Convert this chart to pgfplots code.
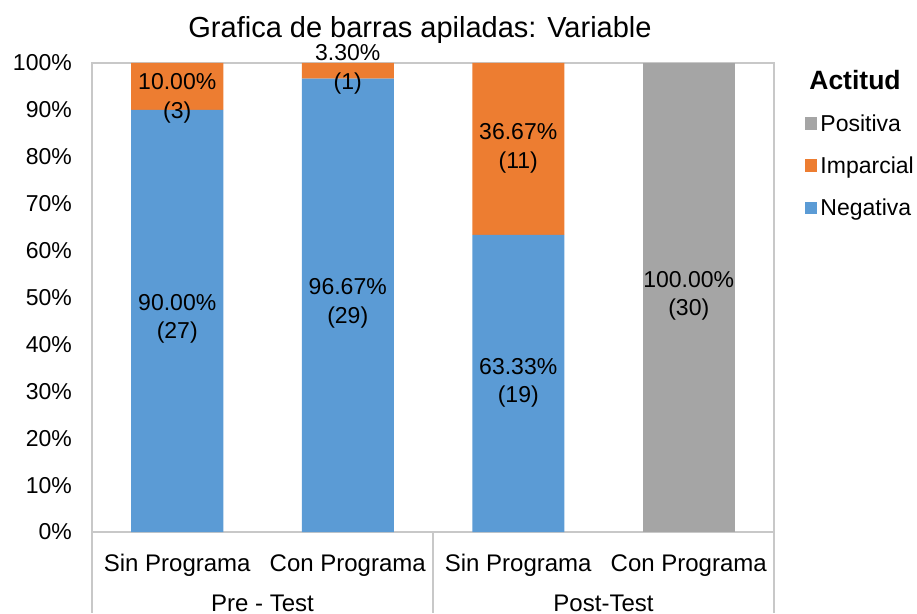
\documentclass[border=0pt]{standalone}
\usepackage{pgfplots}
\pgfplotsset{compat=1.18}
\usepackage{fontspec}
\setmainfont{Liberation Sans}
\definecolor{cblue}{HTML}{5B9BD5}
\definecolor{corange}{HTML}{ED7D31}
\definecolor{cgray}{HTML}{A5A5A5}
\definecolor{cline}{HTML}{C8C8C8}
\begin{document}
\begin{tikzpicture}
\begin{axis}[
  at={(0,0)}, anchor=south west,
  scale only axis, width=682pt, height=469pt,
  ybar stacked, bar width=92pt,
  xmin=-0.5, xmax=3.5, ymin=0, ymax=100,
  xtick={0,1,2,3},
  xticklabels={Sin Programa,Con Programa,Sin Programa,Con Programa},
  ytick={0,10,...,100},
  yticklabel={\pgfmathprintnumber{\tick}\%},
  /pgf/number format/assume math mode=true,
  major tick length=0pt,
  axis line style={cline, line width=1.2pt},
  xticklabel style={font=\fontsize{24}{28}\selectfont, anchor=base, yshift=-39pt},
  yticklabel style={font=\fontsize{23}{27}\selectfont, anchor=east, inner sep=0pt, xshift=-20pt},
  reverse legend,
  legend style={at={(1.045,0.895)}, anchor=north west, draw=none, fill=none,
    font=\fontsize{23}{27}\selectfont, row sep=20pt, inner sep=0pt,
    /tikz/every odd column/.append style={column sep=1pt}},
  legend cell align=left,
  legend image code/.code={\fill[#1] (0pt,-6.3pt) rectangle (12.6pt,6.3pt);},
  clip=false,
]
\addplot[fill=cblue, draw=none] coordinates {(0,90) (1,96.67) (2,63.33) (3,0)};
\addlegendentry{Negativa}
\addplot[fill=corange, draw=none] coordinates {(0,10) (1,3.33) (2,36.67) (3,0)};
\addlegendentry{Imparcial}
\addplot[fill=cgray, draw=none] coordinates {(0,0) (1,0) (2,0) (3,100)};
\addlegendentry{Positiva}

\coordinate (a) at (axis cs:0,45.5);
\coordinate (b) at (axis cs:1,48.8);
\coordinate (c) at (axis cs:2,31.8);
\coordinate (d) at (axis cs:0,92.5);
\coordinate (e) at (axis cs:1,98.6);
\coordinate (f) at (axis cs:2,81.8);
\coordinate (g) at (axis cs:3,50.3);
\coordinate (s1) at (axis cs:-0.5,0);
\coordinate (s2) at (axis cs:1.5,0);
\coordinate (s3) at (axis cs:3.5,0);
\coordinate (p1) at (axis cs:0.5,0);
\coordinate (p2) at (axis cs:2.5,0);
\end{axis}
\tikzset{dl/.style={align=center, font=\fontsize{23}{28.5}\selectfont, inner sep=0pt}}
\node[dl] at (a) {90.00\%\\(27)};
\node[dl] at (b) {96.67\%\\(29)};
\node[dl] at (c) {63.33\%\\(19)};
\node[dl] at (d) {10.00\%\\(3)};
\node[dl] at (e) {3.30\%\\(1)};
\node[dl] at (f) {36.67\%\\(11)};
\node[dl] at (g) {100.00\%\\(30)};
\draw[cline, line width=1.2pt] (s1) -- ([yshift=-81pt]s1);
\draw[cline, line width=1.2pt] (s2) -- ([yshift=-81pt]s2);
\draw[cline, line width=1.2pt] (s3) -- ([yshift=-81pt]s3);
\node[font=\fontsize{24}{28}\selectfont] at ([yshift=-71pt]p1) {Pre - Test};
\node[font=\fontsize{24}{28}\selectfont] at ([yshift=-71pt]p2) {Post-Test};
\node[font=\fontsize{29}{34}\selectfont] at (328pt,502pt) {Grafica de barras apiladas: Variable};
\node[font=\bfseries\fontsize{26.5}{30}\selectfont] at (763pt,452pt) {Actitud};
\pgfresetboundingbox
\path[use as bounding box] (-92pt,-81pt) rectangle (825pt,532pt);
\end{tikzpicture}
\end{document}
